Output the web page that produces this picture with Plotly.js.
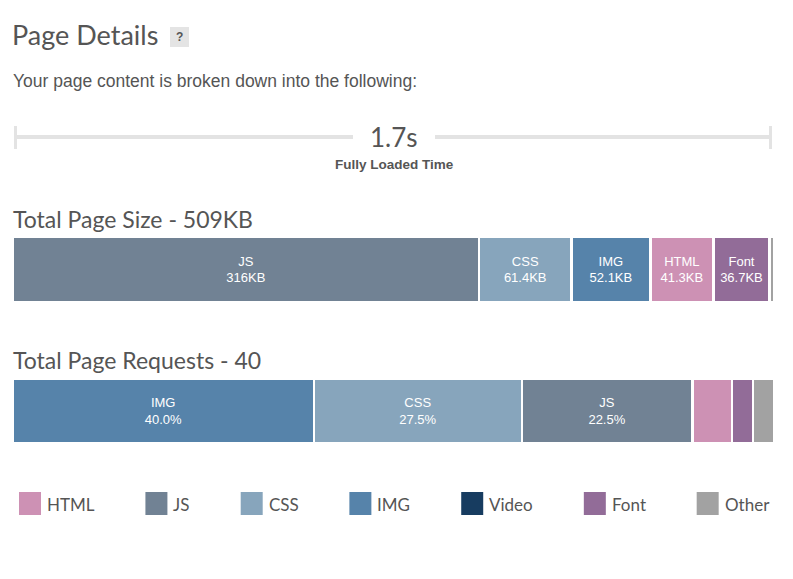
<!DOCTYPE html>
<html>
<head>
<meta charset="utf-8">
<script src="https://cdn.plot.ly/plotly-3.0.1.min.js"></script>
<style>html,body{margin:0;padding:0;background:#fff;}#chart{width:793px;height:579px;}</style>
</head>
<body>
<div id="chart"></div>
<script>
// ---- data ----
const sizeCategories = ['JS', 'CSS', 'IMG', 'HTML', 'Font', 'Other'];
const sizeValuesKB = [316, 61.4, 52.1, 41.3, 36.7, 1.5];
const totalSizeKB = 509;
const requestCategories = ['IMG', 'CSS', 'JS', 'HTML', 'Font', 'Other'];
const requestCounts = [16, 11, 9, 2, 1, 1];
const totalRequests = 40;
const fullyLoadedSeconds = 1.7;
const legendCategories = ['HTML', 'JS', 'CSS', 'IMG', 'Video', 'Font', 'Other'];
const categoryColors = {
  HTML: '#cd91b4', JS: '#718294', CSS: '#87a5bc', IMG: '#5683aa',
  Video: '#173c60', Font: '#926c98', Other: '#a2a2a2'
};

// ---- layout helpers ----
const W = 793, H = 579;
const px = x => x / W;
const py = y => 1 - y / H;
const TXT = '#555555';
const HEAD_FONT = 'Lato, "Noto Sans", sans-serif';
const BODY_FONT = '"Liberation Sans", Arial, sans-serif';
const BAR_L = 14, BAR_R = 773, SEG_GAP_PX = 2.4;

const traces = [];
// segments laid side by side with a small white gap between them (like the original flex row)
function addBar(cats, vals, total, axX, axY, labelFn) {
  const n = cats.length;
  const gapUnits = SEG_GAP_PX * total / ((BAR_R - BAR_L) - (n - 1) * SEG_GAP_PX);
  let start = 0;
  cats.forEach((c, i) => {
    const share = vals[i] / total;
    traces.push({
      type: 'bar', orientation: 'h',
      x: [vals[i]], base: [start], y: ['bar'], xaxis: axX, yaxis: axY, name: c,
      marker: { color: categoryColors[c], line: { width: 0 } },
      text: [labelFn(c, vals[i], share)],
      textposition: 'inside', insidetextanchor: 'middle', textangle: 0,
      textfont: { color: '#ffffff', size: 13, family: BODY_FONT },
      hoverinfo: 'skip', showlegend: false
    });
    start += vals[i] + gapUnits;
  });
  return [0, total + (n - 1) * gapUnits];
}
const sizeRange = addBar(sizeCategories, sizeValuesKB, totalSizeKB, 'x', 'y',
  (c, v, s) => s >= 0.05 ? c + '<br>' + v + 'KB' : '');
const reqRange = addBar(requestCategories, requestCounts, totalRequests, 'x2', 'y2',
  (c, v, s) => s >= 0.1 ? c + '<br>' + (s * 100).toFixed(1) + '%' : '');

const shapes = [];
const annotations = [];
function label(x, y, text, size, family, anchor) {
  annotations.push({ xref: 'paper', yref: 'paper', x: px(x), y: py(y), text: text, showarrow: false,
    xanchor: anchor || 'left', yanchor: 'middle', xshift: (anchor === 'center') ? 0 : -3,
    font: { size: size, color: TXT, family: family } });
}

// help badge
shapes.push({ type: 'rect', xref: 'paper', yref: 'paper', x0: px(170), x1: px(189), y0: py(47), y1: py(27),
  fillcolor: '#e4e4e4', line: { width: 0 } });
label(179.5, 37, '<b>?</b>', 12, BODY_FONT, 'center');

label(14, 81, 'Your page content is broken down into the following:', 17.5, BODY_FONT);

// fully loaded timeline
const lineCol = '#e3e3e3';
shapes.push({ type: 'line', xref: 'paper', yref: 'paper', x0: px(14), x1: px(353), y0: py(137), y1: py(137), line: { color: lineCol, width: 4 } });
shapes.push({ type: 'line', xref: 'paper', yref: 'paper', x0: px(435), x1: px(772), y0: py(137), y1: py(137), line: { color: lineCol, width: 4 } });
shapes.push({ type: 'line', xref: 'paper', yref: 'paper', x0: px(15.5), x1: px(15.5), y0: py(126), y1: py(149), line: { color: lineCol, width: 3 } });
shapes.push({ type: 'line', xref: 'paper', yref: 'paper', x0: px(770.5), x1: px(770.5), y0: py(126), y1: py(149), line: { color: lineCol, width: 3 } });
label(394, 137, fullyLoadedSeconds + 's', 26, HEAD_FONT, 'center');
label(394, 164, '<b>Fully Loaded Time</b>', 13.5, BODY_FONT, 'center');

// section headings
label(14, 219, 'Total Page Size - ' + totalSizeKB + 'KB', 23, HEAD_FONT);
label(14, 360, 'Total Page Requests - ' + totalRequests, 23, HEAD_FONT);

// legend (space-between layout from measured text widths)
const LEG_SIZE = 17, SQ = 22, SQ_GAP = 7, LEG_L = 19, LEG_R = 770;
const cv = document.createElement('canvas').getContext('2d');
cv.font = LEG_SIZE + 'px ' + HEAD_FONT;
const itemW = legendCategories.map(c => SQ + SQ_GAP + cv.measureText(c).width);
const gap = (LEG_R - LEG_L - itemW.reduce((a, b) => a + b, 0)) / (legendCategories.length - 1);
let cx = LEG_L;
legendCategories.forEach((c, i) => {
  shapes.push({ type: 'rect', xref: 'paper', yref: 'paper', x0: px(cx), x1: px(cx + SQ), y0: py(515), y1: py(492),
    fillcolor: categoryColors[c], line: { width: 0 } });
  label(cx + SQ + SQ_GAP, 504, c, LEG_SIZE, HEAD_FONT);
  cx += itemW[i] + gap;
});

const hidden = { visible: false, fixedrange: true, showgrid: false, zeroline: false };
const layout = {
  width: W, height: H,
  margin: { l: 0, r: 0, t: 0, b: 0, pad: 0 },
  paper_bgcolor: '#ffffff', plot_bgcolor: '#ffffff',
  title: { text: 'Page Details', x: px(12), xanchor: 'left', xref: 'container', y: py(36), yref: 'container', yanchor: 'middle',
    font: { size: 27, color: TXT, family: HEAD_FONT } },
  barmode: 'overlay', bargap: 0,
  showlegend: false,
  xaxis: Object.assign({}, hidden, { domain: [px(BAR_L), px(BAR_R)], range: sizeRange, anchor: 'y' }),
  yaxis: Object.assign({}, hidden, { domain: [py(301), py(238)], range: [-0.5, 0.5], anchor: 'x' }),
  xaxis2: Object.assign({}, hidden, { domain: [px(BAR_L), px(BAR_R)], range: reqRange, anchor: 'y2' }),
  yaxis2: Object.assign({}, hidden, { domain: [py(442), py(380)], range: [-0.5, 0.5], anchor: 'x2' }),
  shapes: shapes, annotations: annotations
};

Plotly.newPlot('chart', traces, layout, { staticPlot: true, displayModeBar: false });
</script>
</body>
</html>
